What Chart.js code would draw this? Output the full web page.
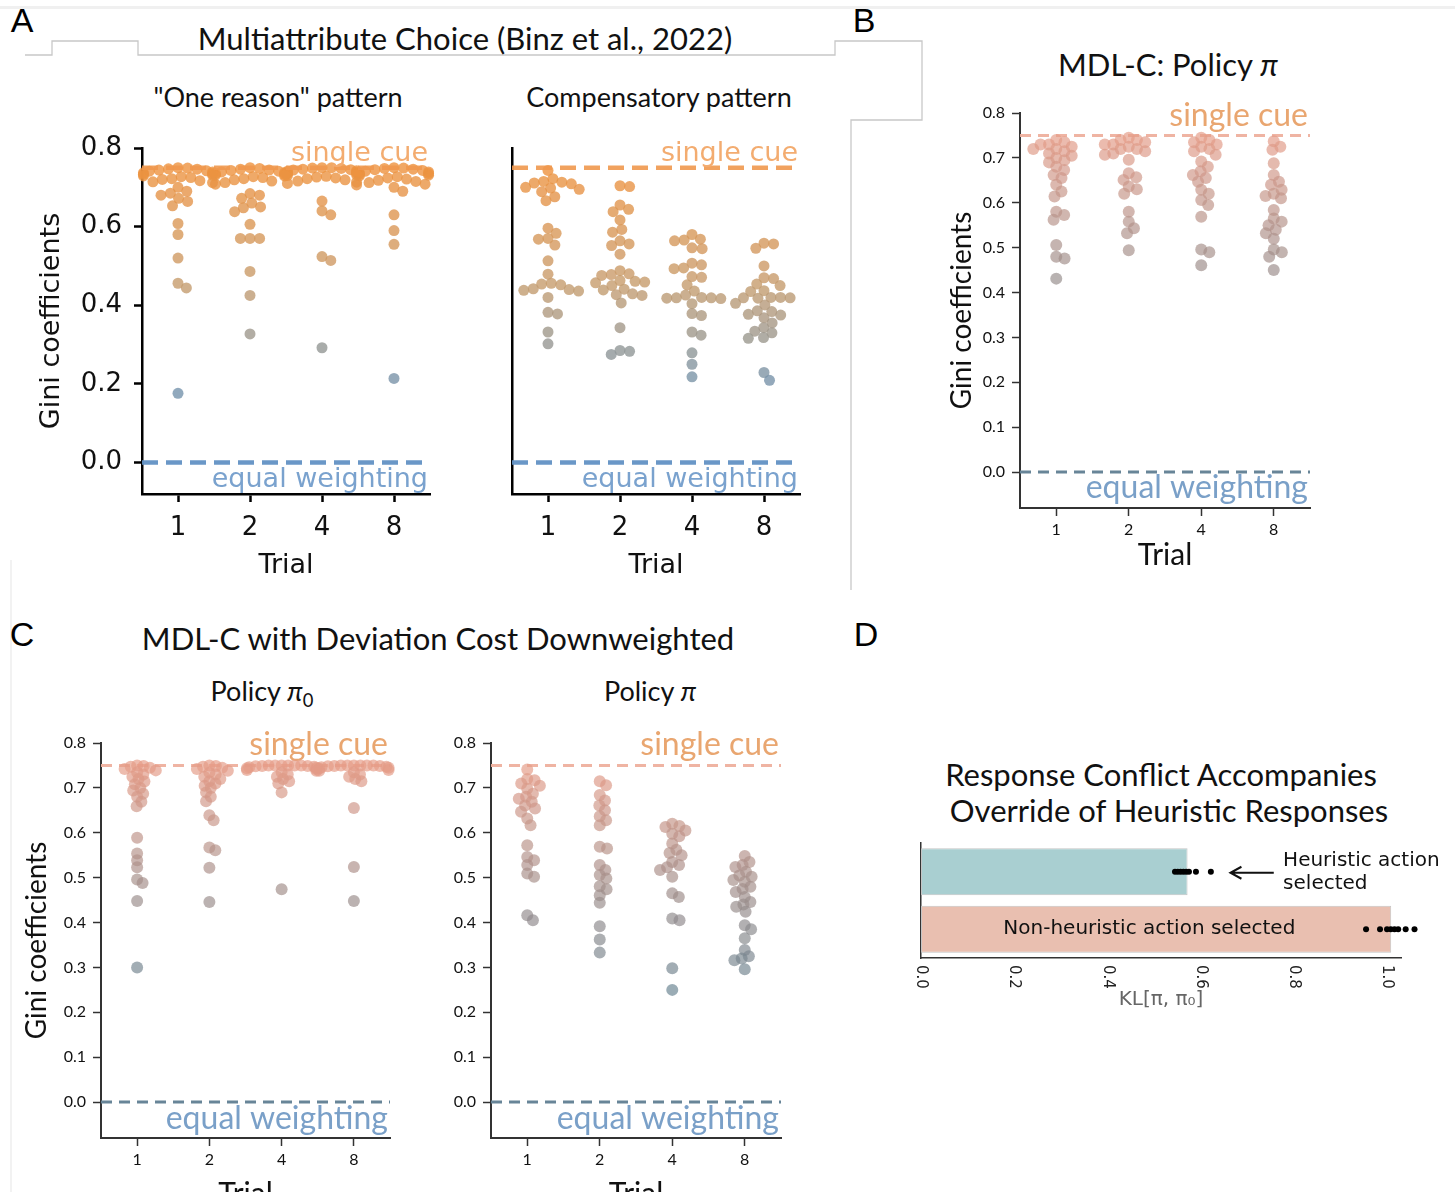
<!DOCTYPE html>
<html>
<head>
<meta charset="utf-8">
<script src="https://cdn.jsdelivr.net/npm/chart.js@4.4.1/dist/chart.umd.min.js"></script>
<style>
  body { margin: 0; background: #fff; }
  #page { position: relative; width: 1455px; height: 1192px; overflow: hidden; background: #fff; }
  canvas { position: absolute; }
  .t { position: absolute; transform: translate(-50%, -50%); white-space: nowrap;
       font-family: Lato, "Open Sans", sans-serif; color: #111; line-height: 1; }
  .lab { position: absolute; transform: translate(-50%, -50%); font-family: "Liberation Sans", Arial, sans-serif;
         font-size: 34px; color: #000; line-height: 1; }
  .sub { font-size: 0.68em; position: relative; top: 0.3em; }
</style>
</head>
<body>
<div id="page">
  <svg width="1455" height="1192" style="position:absolute;left:0;top:0">
    <rect x="0" y="6" width="1455" height="3" fill="#f0f0f0"/>
    <line x1="11" y1="560" x2="11" y2="1192" stroke="#eeeeee" stroke-width="1.5"/>
    <polyline points="25,55 52,55 52,41 138,41 138,55 835,55 835,41 922,41 922,120 851,120 851,590"
              fill="none" stroke="#c8c8c8" stroke-width="1.3"/>
  </svg>

  <div class="lab" style="left:22px;top:20px">A</div>
  <div class="lab" style="left:864px;top:20px">B</div>
  <div class="lab" style="left:22px;top:634px">C</div>
  <div class="lab" style="left:866px;top:634px">D</div>

  <div class="t" style="left:465px;top:38px;font-size:31px">Multiattribute Choice (Binz et al., 2022)</div>
  <div class="t" style="left:278px;top:96px;font-size:27px">"One reason" pattern</div>
  <div class="t" style="left:659px;top:96px;font-size:27px">Compensatory pattern</div>
  <div class="t" style="left:1168px;top:64px;font-size:31px">MDL-C: Policy <i>π</i></div>
  <div class="t" style="left:438px;top:638px;font-size:31px">MDL-C with Deviation Cost Downweighted</div>
  <div class="t" style="left:262px;top:690px;font-size:27px">Policy <i>π</i><span class="sub">0</span></div>
  <div class="t" style="left:650px;top:690px;font-size:27px">Policy <i>π</i></div>
  <div class="t" style="left:1161px;top:774px;font-size:31px">Response Conflict Accompanies</div>
  <div class="t" style="left:1169px;top:810px;font-size:31px">Override of Heuristic Responses</div>
</div>

<script>
// ---- data ----
const trialLabels = ["1", "2", "4", "8"];
const giniTicks = [0, 0.2, 0.4, 0.6, 0.8];
const giniTicksFine = [0, 0.1, 0.2, 0.3, 0.4, 0.5, 0.6, 0.7, 0.8];
const singleCue = 0.75;
const equalWeighting = 0;

// Binz et al. participants, "one reason" pattern (trials 1, 2, 4, 8)
const oneReason = [
  [0.75, 0.749, 0.747, 0.746, 0.744, 0.742, 0.741, 0.739, 0.737, 0.735, 0.733, 0.731, 0.729, 0.727,
   0.725, 0.722, 0.72, 0.717, 0.714, 0.712, 0.70, 0.69, 0.685, 0.68, 0.672, 0.664, 0.653, 0.608,
   0.58, 0.52, 0.456, 0.444, 0.176],
  [0.75, 0.748, 0.746, 0.744, 0.743, 0.741, 0.739, 0.737, 0.735, 0.733, 0.731, 0.729, 0.727, 0.725,
   0.722, 0.719, 0.716, 0.712, 0.708, 0.684, 0.68, 0.672, 0.66, 0.65, 0.648, 0.638, 0.606, 0.57,
   0.57, 0.57, 0.486, 0.425, 0.327],
  [0.75, 0.75, 0.749, 0.748, 0.746, 0.745, 0.744, 0.742, 0.741, 0.739, 0.738, 0.736, 0.734, 0.732,
   0.73, 0.728, 0.726, 0.724, 0.722, 0.719, 0.716, 0.713, 0.71, 0.706, 0.665, 0.64, 0.63, 0.524,
   0.514, 0.292],
  [0.75, 0.749, 0.748, 0.746, 0.745, 0.743, 0.741, 0.739, 0.737, 0.735, 0.733, 0.731, 0.729, 0.727,
   0.724, 0.721, 0.718, 0.715, 0.712, 0.708, 0.70, 0.69, 0.63, 0.59, 0.555, 0.214]
];

// compensatory pattern
const compensatory = [
  [0.743, 0.722, 0.715, 0.713, 0.711, 0.709, 0.70, 0.698, 0.695, 0.689, 0.676, 0.666, 0.596, 0.583,
   0.57, 0.568, 0.553, 0.513, 0.479, 0.456, 0.454, 0.452, 0.442, 0.44, 0.438, 0.436, 0.42, 0.382,
   0.378, 0.332, 0.302],
  [0.704, 0.702, 0.655, 0.644, 0.638, 0.617, 0.593, 0.586, 0.564, 0.556, 0.552, 0.53, 0.488, 0.48,
   0.478, 0.476, 0.463, 0.461, 0.459, 0.457, 0.45, 0.441, 0.439, 0.429, 0.427, 0.425, 0.406, 0.343,
   0.285, 0.283, 0.275],
  [0.58, 0.568, 0.566, 0.564, 0.546, 0.544, 0.507, 0.503, 0.495, 0.493, 0.473, 0.471, 0.452, 0.436,
   0.426, 0.42, 0.419, 0.419, 0.418, 0.417, 0.404, 0.379, 0.374, 0.332, 0.324, 0.279, 0.25,
   0.218],
  [0.558, 0.556, 0.545, 0.5, 0.47, 0.468, 0.454, 0.45, 0.437, 0.435, 0.42, 0.42, 0.419, 0.419,
   0.418, 0.405, 0.401, 0.386, 0.384, 0.377, 0.375, 0.368, 0.355, 0.343, 0.334, 0.33, 0.318, 0.316,
   0.229, 0.209]
];

// MDL-C policy pi
const mdlcPolicy = [
  [0.74, 0.735, 0.73, 0.73, 0.725, 0.72, 0.72, 0.715, 0.71, 0.705, 0.70, 0.695, 0.69, 0.68, 0.673,
   0.662, 0.655, 0.64, 0.625, 0.614, 0.58, 0.573, 0.562, 0.506, 0.48, 0.476, 0.431],
  [0.745, 0.74, 0.74, 0.735, 0.73, 0.73, 0.725, 0.72, 0.72, 0.715, 0.71, 0.707, 0.696, 0.666, 0.657,
   0.651, 0.636, 0.63, 0.62, 0.58, 0.558, 0.543, 0.532, 0.494],
  [0.745, 0.74, 0.735, 0.73, 0.725, 0.72, 0.715, 0.707, 0.692, 0.68, 0.67, 0.662, 0.655, 0.647,
   0.629, 0.62, 0.606, 0.595, 0.569, 0.496, 0.49, 0.461],
  [0.737, 0.725, 0.718, 0.688, 0.662, 0.647, 0.64, 0.629, 0.62, 0.615, 0.61, 0.584, 0.565, 0.558,
   0.55, 0.54, 0.532, 0.52, 0.496, 0.49, 0.48, 0.45]
];

// deviation cost downweighted: policy pi0
const downPi0 = [
  [0.75, 0.749, 0.747, 0.745, 0.742, 0.739, 0.735, 0.73, 0.725, 0.72, 0.714, 0.708, 0.70, 0.694,
   0.687, 0.68, 0.669, 0.659, 0.589, 0.554, 0.539, 0.523, 0.496, 0.488, 0.448, 0.3],
  [0.75, 0.749, 0.747, 0.745, 0.742, 0.738, 0.734, 0.73, 0.725, 0.72, 0.715, 0.71, 0.705, 0.70,
   0.69, 0.68, 0.67, 0.639, 0.628, 0.567, 0.561, 0.522, 0.446],
  [0.75, 0.75, 0.75, 0.75, 0.75, 0.75, 0.749, 0.749, 0.748, 0.747, 0.746, 0.745, 0.744, 0.742, 0.74,
   0.738, 0.735, 0.73, 0.725, 0.72, 0.715, 0.71, 0.69, 0.474],
  [0.75, 0.75, 0.75, 0.75, 0.75, 0.75, 0.749, 0.749, 0.748, 0.747, 0.746, 0.745, 0.743, 0.74, 0.738,
   0.735, 0.73, 0.725, 0.72, 0.715, 0.655, 0.524, 0.448]
];

// deviation cost downweighted: policy pi
const downPi = [
  [0.741, 0.72, 0.717, 0.71, 0.705, 0.698, 0.687, 0.68, 0.676, 0.669, 0.661, 0.654, 0.647, 0.632,
   0.617, 0.572, 0.546, 0.539, 0.528, 0.509, 0.502, 0.416, 0.405],
  [0.715, 0.706, 0.684, 0.672, 0.661, 0.65, 0.637, 0.628, 0.617, 0.569, 0.565, 0.528, 0.517, 0.506,
   0.498, 0.481, 0.474, 0.461, 0.444, 0.392, 0.362, 0.333],
  [0.62, 0.615, 0.613, 0.605, 0.598, 0.592, 0.576, 0.562, 0.555, 0.55, 0.535, 0.528, 0.523, 0.517,
   0.502, 0.465, 0.457, 0.409, 0.405, 0.298, 0.25],
  [0.548, 0.535, 0.528, 0.524, 0.513, 0.505, 0.502, 0.495, 0.491, 0.48, 0.475, 0.468, 0.457, 0.446,
   0.44, 0.435, 0.424, 0.394, 0.385, 0.365, 0.339, 0.325, 0.32, 0.316, 0.296]
];

// panel D
const klCategories = ["Heuristic action selected", "Non-heuristic action selected"];
const klMeans = [0.572, 1.009];
const klHeuristicDots = [0.545, 0.551, 0.557, 0.563, 0.569, 0.575, 0.59, 0.622];
const klNonHeuristicDots = [0.955, 0.985, 1.0, 1.008, 1.016, 1.024, 1.04, 1.059];
const klTicks = [0, 0.2, 0.4, 0.6, 0.8, 1.0];

// ---- helpers ----
Chart.defaults.animation = false;
Chart.defaults.plugins.legend.display = false;
Chart.defaults.plugins.tooltip.enabled = false;

const page = document.getElementById("page");

function addCanvas(g) {
  const c = document.createElement("canvas");
  c.width = g.w; c.height = g.h;
  c.style.left = g.x0 + "px"; c.style.top = g.y0 + "px";
  page.appendChild(c);
  return c;
}

// beeswarm: each point goes to the free spot nearest the centre
function swarmOffsets(ys, pxUnit, pxCat, gap, halfWidth) {
  const order = ys.map((_, i) => i).sort((a, b) => ys[b] - ys[a]);
  const placed = [];
  const out = [];
  const lim = halfWidth * pxCat;
  order.forEach(i => {
    const py = ys[i] * pxUnit;
    const near = placed.filter(p => Math.abs(p.y - py) < gap);
    const cands = [0];
    near.forEach(p => {
      const dx = Math.sqrt(gap * gap - (p.y - py) ** 2);
      cands.push(p.x + dx + 0.01, p.x - dx - 0.01);
    });
    cands.sort((a, b) => Math.abs(a) - Math.abs(b));
    let px = cands.find(c => near.every(p => (p.x - c) ** 2 + (p.y - py) ** 2 >= gap * gap - 0.001));
    if (px === undefined) px = 0;
    px = Math.max(-lim, Math.min(lim, px));
    placed.push({ x: px, y: py });
    out[i] = px / pxCat;
  });
  return out;
}

// colour ramp through three stops
function pointColor(v, st) {
  const [s0, s1, s2] = st.stops;
  let a, b, t;
  if (v >= s1.v) { a = s1; b = s2; } else { a = s0; b = s1; }
  t = Math.max(0, Math.min(1, (v - a.v) / (b.v - a.v)));
  const c = a.c.map((x, i) => Math.round(x + (b.c[i] - x) * t));
  return `rgba(${c[0]},${c[1]},${c[2]},${st.alpha})`;
}

const refPlugin = {
  id: "refs",
  beforeDatasetsDraw(chart, args, o) { if (o.lines && !o.onTop) drawRefs(chart, o); },
  afterDatasetsDraw(chart, args, o) { if (o.lines && o.onTop) drawRefs(chart, o); }
};

function drawRefs(chart, o) {
  const { ctx, chartArea: a } = chart;
  const y = chart.scales.y;
  o.lines.forEach(l => {
    const py = y.getPixelForValue(l.value);
    ctx.save();
    ctx.strokeStyle = l.color;
    ctx.lineWidth = l.width;
    ctx.setLineDash(l.dash);
    ctx.beginPath();
    ctx.moveTo(a.left, py);
    ctx.lineTo(a.right, py);
    ctx.stroke();
    ctx.setLineDash([]);
    ctx.font = l.font;
    ctx.fillStyle = l.textColor;
    ctx.textAlign = "right";
    ctx.textBaseline = "alphabetic";
    ctx.fillText(l.label, a.right - 2, py + l.dy);
    ctx.restore();
  });
}

function makeSwarm(g, series, st) {
  const canvas = addCanvas(g);
  const yMin = -0.08, yMax = 0.8;
  const pxCat = (g.right - g.left) / 4;
  const pxUnit = (g.bottom - g.top) / (yMax - yMin);

  const datasets = series.map((ys, i) => {
    const off = swarmOffsets(ys, pxUnit, pxCat, st.gap, st.halfWidth);
    return {
      data: ys.map((v, j) => ({ x: i + off[j], y: v })),
      pointRadius: st.radius,
      pointHoverRadius: st.radius,
      pointBorderWidth: 0,
      pointBackgroundColor: ys.map(v => pointColor(v, st)),
      clip: false
    };
  });

  return new Chart(canvas, {
    type: "scatter",
    data: { datasets },
    plugins: [refPlugin],
    options: {
      responsive: false,
      layout: { padding: { top: g.top - g.y0, right: g.x0 + g.w - g.right, left: 0, bottom: 0 } },
      plugins: { refs: { lines: st.lines, onTop: st.onTop } },
      scales: {
        x: {
          type: "linear", min: -0.5, max: 3.5,
          afterBuildTicks: s => { s.ticks = trialLabels.map((_, i) => ({ value: i })); },
          afterFit: s => { s.height = g.y0 + g.h - g.bottom; },
          ticks: { callback: v => trialLabels[v], font: st.tickFont, color: "#111",
                   padding: st.xPad, maxRotation: 0, autoSkip: false },
          grid: { drawOnChartArea: false, drawTicks: true, tickLength: 8,
                  tickWidth: st.tickW, tickColor: st.axisColor },
          border: { color: st.axisColor, width: st.axisW },
          title: { display: true, text: "Trial", font: st.xTitleFont, color: "#111",
                   padding: { top: 0, bottom: st.xTitlePad } }
        },
        y: {
          type: "linear", min: yMin, max: yMax,
          afterBuildTicks: s => { s.ticks = st.yTicks.map(v => ({ value: v })); },
          afterFit: s => { s.width = g.left - g.x0; },
          ticks: { display: st.showY, callback: v => v.toFixed(1), font: st.tickFont, color: "#111",
                   padding: st.yPad, autoSkip: false },
          grid: { drawOnChartArea: false, drawTicks: st.showY, tickLength: 8,
                  tickWidth: st.tickW, tickColor: st.axisColor },
          border: { color: st.axisColor, width: st.axisW },
          title: { display: st.showY && st.yTitle, text: "Gini coefficients", font: st.yTitleFont,
                   color: "#111", padding: { top: st.yTitlePad, bottom: 0 } }
        }
      }
    }
  });
}

// ---- styles ----
const dashA = [16, 8];
const linesA = [
  { value: singleCue, label: "single cue", color: "rgba(240,152,78,0.9)", width: 4.5, dash: dashA,
    font: '27px "DejaVu Sans"', textColor: "rgb(243,172,112)", dy: -7 },
  { value: equalWeighting, label: "equal weighting", color: "rgba(98,145,196,0.95)", width: 4.5, dash: dashA,
    font: '27px "DejaVu Sans"', textColor: "rgb(122,162,206)", dy: 24 }
];
const styleA = {
  radius: 5.5, gap: 9.6, halfWidth: 0.48, alpha: 0.8,
  stops: [{ v: 0.2, c: [118, 148, 172] }, { v: 0.45, c: [198, 156, 110] }, { v: 0.75, c: [238, 146, 62] }],
  tickFont: { family: "DejaVu Sans", size: 26 },
  xTitleFont: { family: "DejaVu Sans", size: 27, lineHeight: 1.2 },
  yTitleFont: { family: "DejaVu Sans", size: 27, lineHeight: 1.2 },
  axisColor: "#000", axisW: 2.5, tickW: 2.5, yPad: 12, xPad: 11,
  yTitle: true, yTitlePad: 6, xTitlePad: 8, showY: true, yTicks: giniTicks,
  lines: linesA, onTop: true
};

const dashB = [11, 7];
const linesB = (dyTop, dyBot) => [
  { value: singleCue, label: "single cue", color: "rgba(238,176,158,0.95)", width: 3, dash: dashB,
    font: '32px Lato', textColor: "rgb(233,166,112)", dy: dyTop },
  { value: equalWeighting, label: "equal weighting", color: "rgb(104,133,152)", width: 3, dash: dashB,
    font: '32px Lato', textColor: "rgb(122,160,200)", dy: dyBot }
];
const styleB = {
  radius: 6, gap: 8.5, halfWidth: 0.48, alpha: 0.68,
  stops: [{ v: 0.25, c: [106, 132, 146] }, { v: 0.5, c: [168, 144, 138] }, { v: 0.75, c: [230, 156, 136] }],
  tickFont: { family: "Lato", size: 16 },
  xTitleFont: { family: "Lato", size: 30, lineHeight: 1.2 },
  yTitleFont: { family: "Lato", size: 28, lineHeight: 1.2 },
  axisColor: "#333", axisW: 2, tickW: 1.5, yPad: 7, xPad: 4,
  yTitle: true, yTitlePad: 15, xTitlePad: 7, showY: true, yTicks: giniTicksFine,
  lines: linesB(-9, 26), onTop: false
};

// ---- panel A ----
makeSwarm({ x0: 30, y0: 114, w: 410, h: 476, left: 142, right: 430, top: 148, bottom: 494 },
  oneReason, styleA);
makeSwarm({ x0: 420, y0: 114, w: 390, h: 476, left: 512, right: 800, top: 148, bottom: 494 },
  compensatory, Object.assign({}, styleA, { showY: false, yTitle: false }));

// ---- panel B ----
makeSwarm({ x0: 930, y0: 90, w: 390, h: 490, left: 1020, right: 1310, top: 113, bottom: 508 },
  mdlcPolicy, styleB);

// ---- panel C ----
const styleC = Object.assign({}, styleB, { gap: 6.5, yTitlePad: 5, xTitlePad: 13, lines: linesB(-10, 27) });
makeSwarm({ x0: 15, y0: 720, w: 385, h: 505, left: 101, right: 390, top: 743, bottom: 1138 },
  downPi0, styleC);
makeSwarm({ x0: 405, y0: 720, w: 386, h: 505, left: 491, right: 781, top: 743, bottom: 1138 },
  downPi, Object.assign({}, styleC, { gap: 7.5, yTitle: false }));

// ---- panel D ----
const gD = { x0: 880, y0: 830, w: 575, h: 190, left: 921, right: 1401, top: 843, bottom: 958 };

const klDecor = {
  id: "klDecor",
  // the per-participant dots run past the axis end, so widen the area while they draw
  beforeDatasetDraw(chart, args) {
    if (args.index === 1) { this._right = chart.chartArea.right; chart.chartArea.right += 40; }
  },
  afterDatasetDraw(chart, args) {
    if (args.index === 1) chart.chartArea.right = this._right;
  },
  afterDraw(chart) {
    const { ctx, chartArea: a } = chart;
    const x = chart.scales.x;
    const bars = chart.getDatasetMeta(0).data;
    ctx.save();
    // rotated tick labels
    ctx.font = '15px "DejaVu Sans"';
    ctx.fillStyle = "#222";
    ctx.textAlign = "left";
    ctx.textBaseline = "middle";
    klTicks.forEach(v => {
      ctx.save();
      ctx.translate(x.getPixelForValue(v), a.bottom + 7);
      ctx.rotate(Math.PI / 2);
      ctx.fillText(v.toFixed(1), 0, 0);
      ctx.restore();
    });
    // labels
    ctx.font = '20px "DejaVu Sans"';
    ctx.fillStyle = "#111";
    ctx.textAlign = "center";
    ctx.fillText(klCategories[1], x.getPixelForValue(0.49), bars[1].y);
    ctx.textAlign = "left";
    const tx = x.getPixelForValue(0.777);
    ctx.fillText("Heuristic action", tx, bars[0].y - 11);
    ctx.fillText("selected", tx, bars[0].y + 12);
    // arrow
    const x1 = x.getPixelForValue(0.757), x2 = x.getPixelForValue(0.664), ay = bars[0].y + 1;
    ctx.strokeStyle = "#111";
    ctx.lineWidth = 2;
    ctx.beginPath();
    ctx.moveTo(x1, ay); ctx.lineTo(x2, ay);
    ctx.moveTo(x2 + 11, ay - 6); ctx.lineTo(x2, ay); ctx.lineTo(x2 + 11, ay + 6);
    ctx.stroke();
    ctx.restore();
  }
};

new Chart(addCanvas(gD), {
  type: "bar",
  data: {
    labels: klCategories,
    datasets: [
      { type: "bar", order: 1, data: klMeans, backgroundColor: ["#a9cfd1", "#e9bfb0"],
        borderColor: "#c4c4c4", borderWidth: 1, borderSkipped: false,
        barPercentage: 0.82, categoryPercentage: 1 },
      { type: "scatter", order: 0, indexAxis: "y",
        data: [...klNonHeuristicDots.map(v => ({ x: v, y: klCategories[1] })),
               ...klHeuristicDots.map(v => ({ x: v, y: klCategories[0] }))],
        pointRadius: 3, pointHoverRadius: 3, pointBorderWidth: 0,
        pointBackgroundColor: "#000", clip: false }
    ]
  },
  plugins: [klDecor],
  options: {
    responsive: false,
    indexAxis: "y",
    layout: { padding: { top: gD.top - gD.y0, right: gD.x0 + gD.w - gD.right, left: 0, bottom: 0 } },
    scales: {
      x: {
        type: "linear", min: 0, max: 1.03,
        afterBuildTicks: s => { s.ticks = klTicks.map(v => ({ value: v })); },
        afterFit: s => { s.height = gD.y0 + gD.h - gD.bottom; },
        ticks: { display: false },
        grid: { display: false },
        border: { color: "#333", width: 1.5 },
        title: { display: true, text: "KL[π, π₀]", color: "#666",
                 font: { family: "DejaVu Sans", size: 20, lineHeight: 1.2 },
                 padding: { top: 0, bottom: 8 } }
      },
      y: {
        type: "category", offset: true,
        afterFit: s => { s.width = gD.left - gD.x0; },
        ticks: { display: false },
        grid: { display: false },
        border: { color: "#333", width: 1.5 }
      }
    }
  }
});
</script>
</body>
</html>
